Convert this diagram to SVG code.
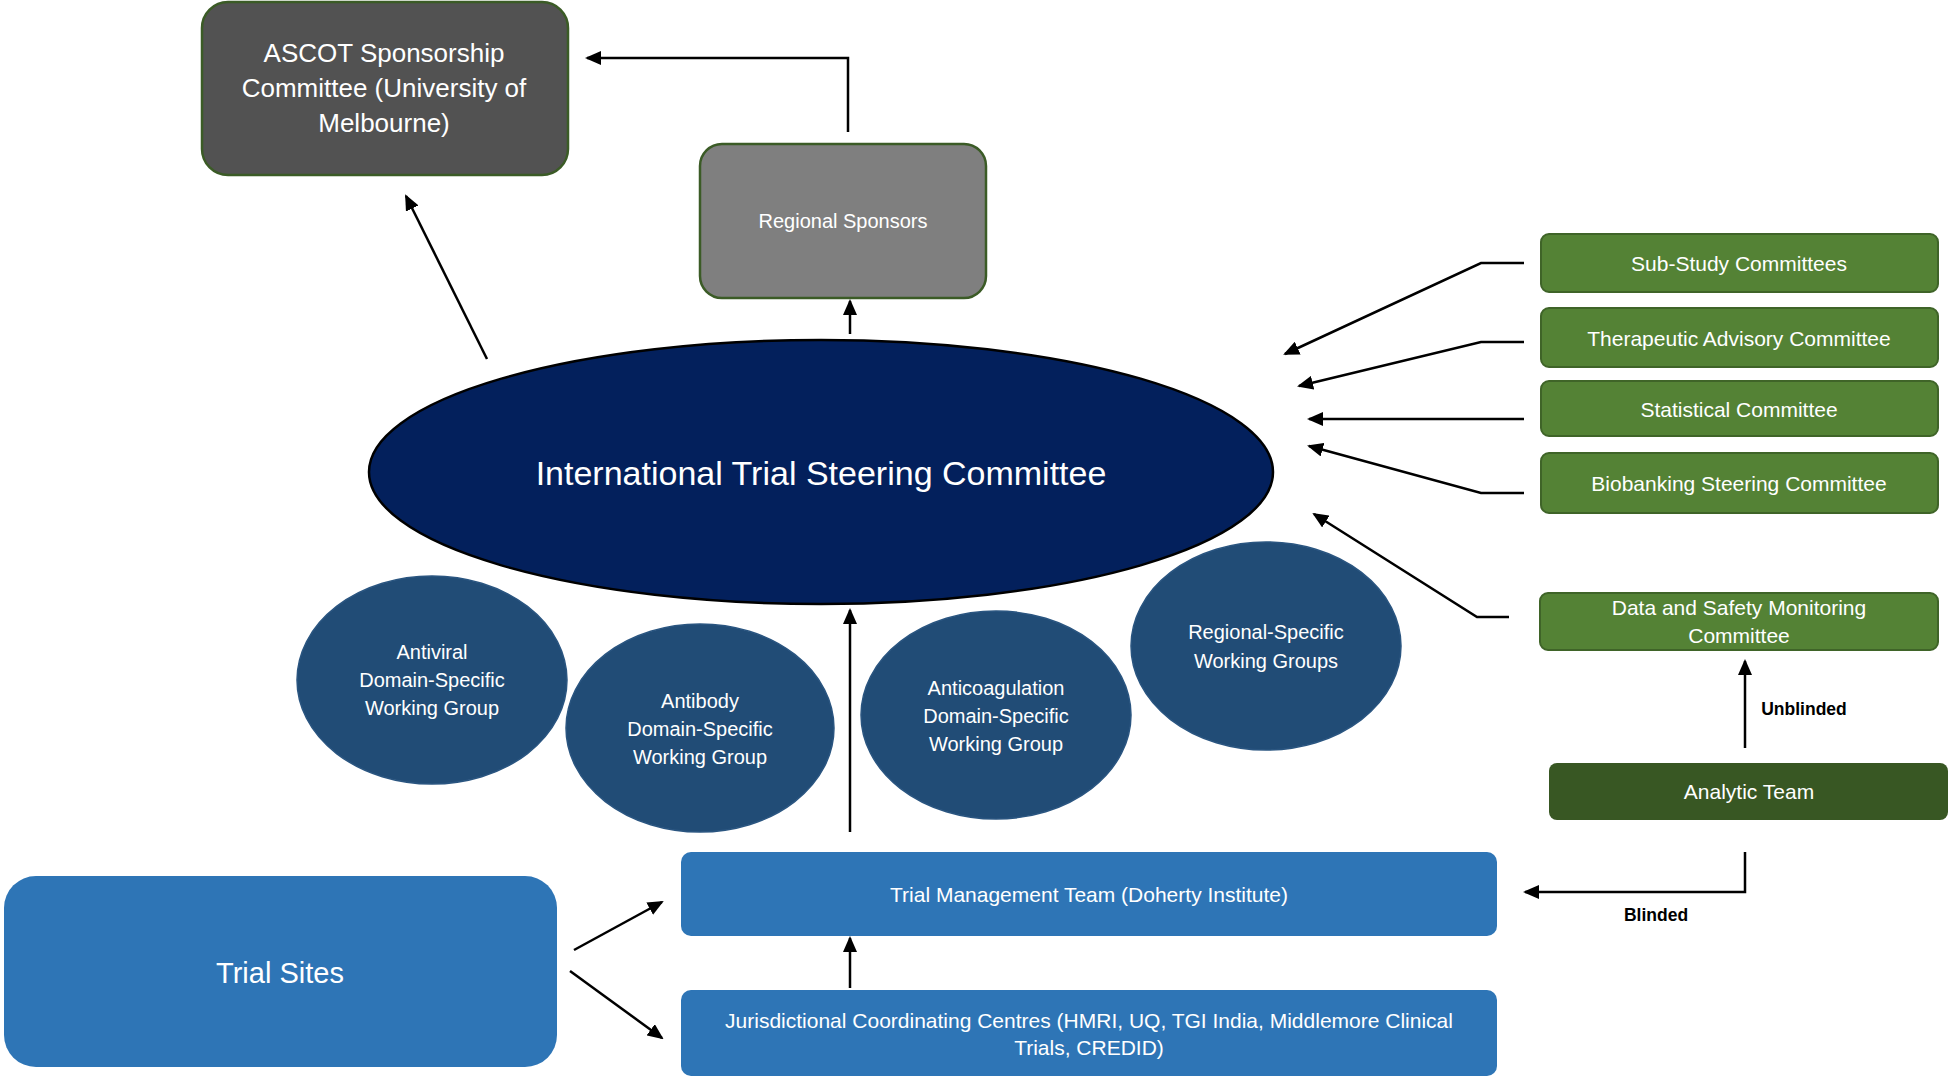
<svg xmlns="http://www.w3.org/2000/svg" width="1948" height="1079" viewBox="0 0 1948 1079">
<style>
.t{font-family:"Liberation Sans",Arial,sans-serif;fill:#ffffff;text-anchor:middle;dominant-baseline:central}
.lbl{font-family:"Liberation Sans",Arial,sans-serif;fill:#000000;text-anchor:middle;dominant-baseline:central;font-size:17.5px;font-weight:bold}
.grey{stroke:#3b5b26;stroke-width:2.5}
.green{fill:#548235;stroke:#3f6428;stroke-width:2}
.blue{fill:#2e75b6}
.wg{fill:#214c76;stroke:#2a5580;stroke-width:1.5}
.c{fill:none;stroke:#000;stroke-width:2.5;marker-end:url(#ah)}
</style>
<defs>
<marker id="ah" markerUnits="userSpaceOnUse" markerWidth="16" markerHeight="14" refX="14" refY="7" orient="auto">
<path d="M0,0 L16,7 L0,14 Z" fill="#000"/>
</marker>
</defs>
<rect width="1948" height="1079" fill="#ffffff"/>
<g id="ascot">
<rect class="grey" x="202" y="2" width="366" height="173" rx="26" fill="#525252"/>
<text class="t" font-size="26" x="384" y="53">ASCOT Sponsorship</text>
<text class="t" font-size="26" x="384" y="88">Committee (University of</text>
<text class="t" font-size="26" x="384" y="123">Melbourne)</text>
</g>
<g id="regional-sponsors">
<rect class="grey" x="700" y="144" width="286" height="154" rx="22" fill="#7f7f7f"/>
<text class="t" font-size="20" x="843" y="221">Regional Sponsors</text>
</g>
<g id="itsc">
<ellipse cx="821" cy="472" rx="452" ry="132" fill="#03205c" stroke="#000" stroke-width="2.5"/>
<text class="t" font-size="34" x="821" y="473">International Trial Steering Committee</text>
</g>
<g id="antiviral">
<ellipse class="wg" cx="432" cy="680" rx="135" ry="104"/>
<text class="t" font-size="20" x="432" y="652">Antiviral</text>
<text class="t" font-size="20" x="432" y="680">Domain-Specific</text>
<text class="t" font-size="20" x="432" y="708">Working Group</text>
</g>
<g id="antibody">
<ellipse class="wg" cx="700" cy="728" rx="134" ry="104"/>
<text class="t" font-size="20" x="700" y="701">Antibody</text>
<text class="t" font-size="20" x="700" y="729">Domain-Specific</text>
<text class="t" font-size="20" x="700" y="757">Working Group</text>
</g>
<g id="anticoagulation">
<ellipse class="wg" cx="996" cy="715" rx="135" ry="104"/>
<text class="t" font-size="20" x="996" y="688">Anticoagulation</text>
<text class="t" font-size="20" x="996" y="716">Domain-Specific</text>
<text class="t" font-size="20" x="996" y="744">Working Group</text>
</g>
<g id="regional-wg">
<ellipse class="wg" cx="1266" cy="646" rx="135" ry="104"/>
<text class="t" font-size="20" x="1266" y="632">Regional-Specific</text>
<text class="t" font-size="20" x="1266" y="661">Working Groups</text>
</g>
<g id="trial-management">
<rect class="blue" x="681" y="852" width="816" height="84" rx="10"/>
<text class="t" font-size="21" x="1089" y="894">Trial Management Team (Doherty Institute)</text>
</g>
<g id="jcc">
<rect class="blue" x="681" y="990" width="816" height="86" rx="10"/>
<text class="t" font-size="21" x="1089" y="1020">Jurisdictional Coordinating Centres (HMRI, UQ, TGI India, Middlemore Clinical</text>
<text class="t" font-size="21" x="1089" y="1047">Trials, CREDID)</text>
</g>
<g id="trial-sites">
<rect class="blue" x="4" y="876" width="553" height="191" rx="32"/>
<text class="t" font-size="29" x="280" y="973">Trial Sites</text>
</g>
<g id="sub-study">
<rect class="green" x="1541" y="234" width="397" height="58" rx="8"/>
<text class="t" font-size="21" x="1739" y="263">Sub-Study Committees</text>
</g>
<g id="therapeutic">
<rect class="green" x="1541" y="308" width="397" height="59" rx="8"/>
<text class="t" font-size="21" x="1739" y="338">Therapeutic Advisory Committee</text>
</g>
<g id="statistical">
<rect class="green" x="1541" y="381" width="397" height="55" rx="8"/>
<text class="t" font-size="21" x="1739" y="409">Statistical Committee</text>
</g>
<g id="biobanking">
<rect class="green" x="1541" y="453" width="397" height="60" rx="8"/>
<text class="t" font-size="21" x="1739" y="483">Biobanking Steering Committee</text>
</g>
<g id="dsmc">
<rect class="green" x="1540" y="593" width="398" height="57" rx="8"/>
<text class="t" font-size="21" x="1739" y="607">Data and Safety Monitoring</text>
<text class="t" font-size="21" x="1739" y="635">Committee</text>
</g>
<g id="analytic-team">
<rect x="1549" y="763" width="399" height="57" rx="8" fill="#385723"/>
<text class="t" font-size="21" x="1749" y="791">Analytic Team</text>
</g>
<g id="connectors">
<path class="c" d="M848,132 V58 H587"/>
<path class="c" d="M487,359 L406,196"/>
<path class="c" d="M850,334 V301"/>
<path class="c" d="M850,832 V610"/>
<path class="c" d="M850,988 V938"/>
<path class="c" d="M574,950 L662,902"/>
<path class="c" d="M570,971 L662,1038"/>
<path class="c" d="M1524,263 H1481 L1285,354"/>
<path class="c" d="M1524,342 H1481 L1299,386"/>
<path class="c" d="M1524,419 H1309"/>
<path class="c" d="M1524,493 H1481 L1309,446"/>
<path class="c" d="M1509,617 H1477 L1314,514"/>
<path class="c" d="M1745,748 V661"/>
<path class="c" d="M1745,852 V892 H1525"/>
<text class="lbl" x="1804" y="709">Unblinded</text>
<text class="lbl" x="1656" y="915">Blinded</text>
</g>
</svg>
